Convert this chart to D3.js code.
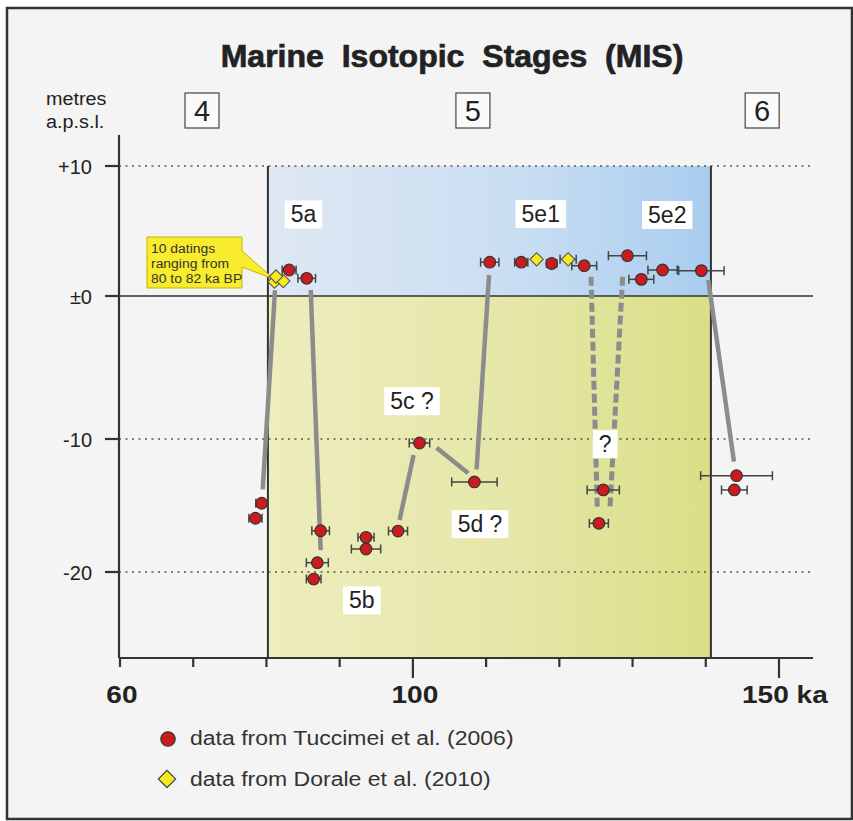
<!DOCTYPE html>
<html><head><meta charset="utf-8">
<script src="https://cdn.jsdelivr.net/npm/d3@7"></script>
<style>
html,body{margin:0;padding:0;background:#fff;}
svg{display:block;font-family:"Liberation Sans",Arial,sans-serif;}
</style></head>
<body>
<svg id="chart" width="853" height="821"></svg>
<script>
// ---------- DATA ----------
const xTickValues = [60,70,80,90,100,110,120,130,140,150];
const xTickLabels = [{v:60,t:"60"},{v:100,t:"100"},{v:150,t:"150 ka"}];
const yTickValues = [10,0,-10,-20];
const yTickLabels = ["+10","\u00b10","-10","-20"];

const stageBounds = [80.2, 140.7];          // MIS 5 limits (ka)
const stageNames = ["4","5","6"];
const stageAges = [71.2, 108.2, 147.7];

// Tuccimei et al. (2006) – age (ka), elevation (m a.p.s.l.), age error (ka)
const tuccimeiAge  = [78.5, 79.35, 83.1, 85.5, 86.45, 86.95, 87.4, 93.6, 93.6, 97.97, 100.9, 108.4, 110.5, 114.8, 118.95, 123.4, 125.4, 126.0, 129.3, 131.2, 134.1, 139.4, 143.9, 144.2];
const tuccimeiElev = [-15.96, -14.83, 2.0, 1.36, -20.53, -19.3, -16.9, -17.39, -18.27, -16.92, -10.3, -13.23, 2.6, 2.6, 2.5, 2.33, -16.34, -13.83, 3.1, 1.28, 2.0, 1.95, -13.83, -12.76];
const tuccimeiErr  = [0.9, 0.8, 0.95, 1.2, 1.0, 1.5, 1.2, 1.1, 2.0, 1.3, 1.4, 3.1, 1.25, 0.9, 0.7, 1.7, 1.3, 2.2, 2.6, 1.7, 2.0, 3.1, 1.75, 4.9];

// Dorale et al. (2010)
const doraleAge  = [81.1, 82.3, 81.3, 116.9, 121.2];
const doraleElev = [1.1, 1.15, 1.5, 2.82, 2.82];
const doraleErr  = [0, 0, 0, 0, 1.1];

// interpretive connectors: [age1, elev1, age2, elev2, dashed]
const connectors = [
  [81.17, 0.46, 79.49, -13.78, false],
  [86.05, 0.46, 87.4, -18.35, false],
  [98.18, -16.09, 100.1, -11.2, false],
  [103.24, -10.65, 107.56, -12.58, false],
  [108.7, -12.28, 110.4, 1.6, false],
  [124.33, 1.48, 125.19, -15.3, true],
  [128.65, 1.48, 126.9, -15.3, true],
  [140.35, 1.23, 143.85, -11.7, false]
];

// substage labels: text, age, elevation
const substageText = ["5a","5e1","5e2","5c ?","5d ?","5b","?"];
const substageAge  = [85.06, 117.46, 134.74, 99.88, 109.17, 93.03, 126.26];
const substageElev = [6.27, 6.3, 6.23, -7.36, -16.4, -22.14, -10.39];

const calloutLines = ["10 datings","ranging from","80 to 82 ka BP"];
const legendItems = ["data from Tuccimei et al. (2006)","data from Dorale et al. (2010)"];

// ---------- SCALES ----------
const x = d3.scaleLinear().domain([60,150]).range([120,779]);
const y = d3.scaleLinear().domain([10,0,-10,-20]).range([166,296,439,572]);
const xAxisEnd = 813, axisY = 658, axisX = 119, yTop = 135;

const svg = d3.select("#chart");
function stretch(sel, k){
  const w = sel.node().getComputedTextLength();
  sel.attr("textLength", w*k).attr("lengthAdjust","spacingAndGlyphs");
  return sel;
}
const defs = svg.append("defs");
const gb = defs.append("linearGradient").attr("id","gBlue");
gb.append("stop").attr("offset","0%").attr("stop-color","#dfe8f3");
gb.append("stop").attr("offset","55%").attr("stop-color","#cadef2");
gb.append("stop").attr("offset","100%").attr("stop-color","#a9cdef");
const gy = defs.append("linearGradient").attr("id","gYellow");
gy.append("stop").attr("offset","0%").attr("stop-color","#ededbd");
gy.append("stop").attr("offset","55%").attr("stop-color","#e5e7a8");
gy.append("stop").attr("offset","100%").attr("stop-color","#d9df86");

// frame & background
svg.append("rect").attr("x",7).attr("y",8).attr("width",845).attr("height",811)
  .attr("fill","#f4f4f4").attr("stroke","#333").attr("stroke-width",2.5);

// shaded regions
svg.append("rect").attr("x",x(stageBounds[0])).attr("y",y(10))
  .attr("width",x(stageBounds[1])-x(stageBounds[0])).attr("height",y(0)-y(10))
  .attr("fill","url(#gBlue)");
svg.append("rect").attr("x",x(stageBounds[0])).attr("y",y(0))
  .attr("width",x(stageBounds[1])-x(stageBounds[0])).attr("height",axisY-y(0))
  .attr("fill","url(#gYellow)");

// grid lines
yTickValues.forEach(v=>{
  if(v===0){
    svg.append("line").attr("x1",axisX).attr("x2",xAxisEnd).attr("y1",y(0)).attr("y2",y(0))
      .attr("stroke","#333").attr("stroke-width",1.5);
  } else {
    svg.append("line").attr("x1",axisX).attr("x2",xAxisEnd-2).attr("y1",y(v)).attr("y2",y(v))
      .attr("stroke","#555").attr("stroke-width",1.3).attr("stroke-dasharray","2,4.5");
  }
});
// stage boundaries
stageBounds.forEach(b=>{
  svg.append("line").attr("x1",x(b)).attr("x2",x(b)).attr("y1",y(10)).attr("y2",axisY)
    .attr("stroke","#333").attr("stroke-width",2);
});

// axes
svg.append("line").attr("x1",axisX).attr("x2",axisX).attr("y1",yTop).attr("y2",axisY)
  .attr("stroke","#333").attr("stroke-width",2.2);
svg.append("line").attr("x1",axisX).attr("x2",xAxisEnd).attr("y1",axisY).attr("y2",axisY)
  .attr("stroke","#333").attr("stroke-width",2.2);
xTickValues.forEach(v=>{
  const major = (v===100||v===150);
  svg.append("line").attr("x1",x(v)).attr("x2",x(v)).attr("y1",axisY).attr("y2",axisY+(major?20:9))
    .attr("stroke","#333").attr("stroke-width",2.2);
});
xTickLabels.forEach(d=>{
  const t = svg.append("text").attr("y",703).attr("font-size",23).attr("font-weight","bold").attr("fill","#222");
  t.text(d.t);
  stretch(t,1.22);
  const w = +t.attr("textLength");
  if(d.t.indexOf("ka")>=0){ t.attr("x",x(d.v)-37); }
  else { t.attr("x",x(d.v)+2-w/2); }
});
yTickValues.forEach((v,i)=>{
  svg.append("line").attr("x1",axisX-14).attr("x2",axisX).attr("y1",y(v)).attr("y2",y(v))
    .attr("stroke","#333").attr("stroke-width",2.2);
  svg.append("text").attr("x",92).attr("y",y(v)+8).attr("text-anchor","end")
    .attr("font-size",20).attr("fill","#222").text(yTickLabels[i]);
});

// title and headers
svg.append("text").attr("x",452).attr("y",67).attr("text-anchor","middle")
  .attr("font-size",32).attr("font-weight","bold").attr("fill","#222")
  .attr("stroke","#222").attr("stroke-width",0.7)
  .attr("word-spacing",9).text("Marine Isotopic Stages (MIS)");
stretch(svg.append("text").attr("x",46).attr("y",105).attr("font-size",18).attr("fill","#222").text("metres"),1.1);
stretch(svg.append("text").attr("x",46).attr("y",128).attr("font-size",18).attr("fill","#222").text("a.p.s.l."),1.1);
stageNames.forEach((s,i)=>{
  const cx = x(stageAges[i]);
  svg.append("rect").attr("x",cx-17).attr("y",93).attr("width",34).attr("height",35)
    .attr("fill","#fafafa").attr("stroke","#444").attr("stroke-width",1.2);
  svg.append("text").attr("x",cx).attr("y",121).attr("text-anchor","middle")
    .attr("font-size",29).attr("fill","#222").text(s);
});

// connectors
connectors.forEach(c=>{
  svg.append("line").attr("x1",x(c[0])).attr("y1",y(c[1])).attr("x2",x(c[2])).attr("y2",y(c[3]))
    .attr("stroke","#8c8c8c").attr("stroke-width",c[4]?5:4.5)
    .attr("stroke-dasharray",c[4]?"9,4":null);
});

// substage labels
substageText.forEach((t,i)=>{
  const cx = x(substageAge[i]), cy = y(substageElev[i]);
  const txt = svg.append("text").attr("x",cx).attr("y",cy+8).attr("text-anchor","middle")
    .attr("font-size",23).attr("fill","#222").text(t);
  const w = txt.node().getComputedTextLength();
  svg.insert("rect","text:last-of-type").attr("x",cx-w/2-6).attr("y",cy-14)
    .attr("width",w+12).attr("height",28).attr("fill","#fff");
  txt.raise();
});

// callout
const tipX = x(81.3), tipY = y(1.3);
const bx = 147, by = 237, bw = 95, bh = 51;
svg.append("path")
  .attr("d",`M${bx},${by}H${bx+bw}V${by+14}L${tipX-2},${tipY}L${bx+bw},${by+30}V${by+bh}H${bx}Z`)
  .attr("fill","#f8ec2c").attr("stroke","#c9b300").attr("stroke-width",1);
calloutLines.forEach((l,i)=>{
  stretch(svg.append("text").attr("x",bx+4).attr("y",by+16+i*15).attr("font-size",12.3).attr("fill","#333").text(l),1.13);
});

// error bars
function errBar(a,e,err){
  if(!err) return;
  const g = svg.append("g").attr("stroke","#444").attr("stroke-width",1.5);
  g.append("line").attr("x1",x(a-err)).attr("x2",x(a+err)).attr("y1",y(e)).attr("y2",y(e));
  g.append("line").attr("x1",x(a-err)).attr("x2",x(a-err)).attr("y1",y(e)-4.5).attr("y2",y(e)+4.5);
  g.append("line").attr("x1",x(a+err)).attr("x2",x(a+err)).attr("y1",y(e)-4.5).attr("y2",y(e)+4.5);
}
tuccimeiAge.forEach((a,i)=>errBar(a,tuccimeiElev[i],tuccimeiErr[i]));
doraleAge.forEach((a,i)=>errBar(a,doraleElev[i],doraleErr[i]));

// points
svg.append("g").selectAll("circle").data(tuccimeiAge).join("circle")
  .attr("cx",(d)=>x(d)).attr("cy",(d,i)=>y(tuccimeiElev[i])).attr("r",5.8)
  .attr("fill","#cc1b1f").attr("stroke","#333").attr("stroke-width",1.2);
const diamond = d3.symbol().type(d3.symbolSquare).size(88);
svg.append("g").selectAll("path").data(doraleAge).join("path")
  .attr("d",diamond)
  .attr("transform",(d,i)=>`translate(${x(d)},${y(doraleElev[i])}) rotate(45)`)
  .attr("fill","#f6ea1f").attr("stroke","#555").attr("stroke-width",1.1);

// legend
svg.append("circle").attr("cx",168).attr("cy",739).attr("r",7.2)
  .attr("fill","#cc1b1f").attr("stroke","#333").attr("stroke-width",1.2);
svg.append("path").attr("d",d3.symbol().type(d3.symbolSquare).size(150))
  .attr("transform","translate(167,779) rotate(45)")
  .attr("fill","#f6ea1f").attr("stroke","#444").attr("stroke-width",1.2);
legendItems.forEach((t,i)=>{
  stretch(svg.append("text").attr("x",190).attr("y",745+i*41).attr("font-size",19.5)
    .attr("fill","#333").text(t),1.18);
});
</script>
</body></html>
